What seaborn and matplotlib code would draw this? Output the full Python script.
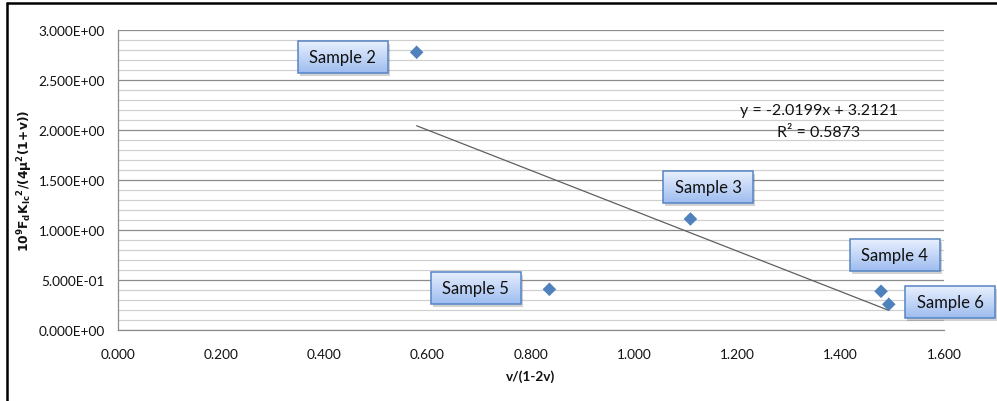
import numpy as np
import pandas as pd
import matplotlib
matplotlib.use("Agg")
import matplotlib.pyplot as plt
import matplotlib.transforms as mtransforms
from matplotlib.patches import Rectangle
from matplotlib.lines import Line2D
from matplotlib.ticker import MultipleLocator, FormatStrFormatter
import seaborn as sns

# Measured samples
samples = ["Sample 2", "Sample 3", "Sample 4", "Sample 6", "Sample 5"]
x_vals = [0.579, 1.109, 1.478, 1.493, 0.836]
y_vals = [2.777, 1.110, 0.387, 0.257, 0.407]

# Linear trendline coefficients
slope = -2.0199
intercept = 3.2121
r_squared = 0.5873

# Callout label anchor positions (data units)
label_x = [0.4355, 1.143, 1.5045, 1.6115, 0.693]
label_y = [2.73, 1.43, 0.75, 0.28, 0.425]

x_ticks = [0.0, 0.2, 0.4, 0.6, 0.8, 1.0, 1.2, 1.4, 1.6]
y_ticks = [0.0, 0.5, 1.0, 1.5, 2.0, 2.5, 3.0]

sns.set_theme(style="white")
plt.rcParams["font.family"] = ["Lato", "DejaVu Sans"]
plt.rcParams["mathtext.fontset"] = "dejavusans"

fig = plt.figure(figsize=(9.97, 4.02), dpi=100)
ax = fig.add_axes([0.1179, 0.1766, 0.8290, 0.7463])

df = pd.DataFrame({"x": x_vals, "y": y_vals, "sample": samples})

# Trendline over the observed x range
x_line = np.array([min(x_vals), max(x_vals)])
trend = pd.DataFrame({"x": x_line, "y": slope * x_line + intercept})
sns.lineplot(data=trend, x="x", y="y", ax=ax, color="#5f5f5f", linewidth=0.9, zorder=3)

sns.scatterplot(data=df, x="x", y="y", ax=ax, marker="D", s=48,
                color="#4f81bd", edgecolor="none", zorder=4)

ax.set_xlim(0, 1.6)
ax.set_ylim(0, 3.0)
ax.set_xticks(x_ticks)
ax.set_yticks(y_ticks)
ax.xaxis.set_major_formatter(FormatStrFormatter("%.3f"))
ax.yaxis.set_major_formatter(FormatStrFormatter("%.3E"))
ax.yaxis.set_minor_locator(MultipleLocator(0.1))

ax.grid(axis="y", which="major", color="#8c8c8c", linewidth=0.9)
ax.grid(axis="y", which="minor", color="#d0d0d0", linewidth=0.9)
ax.grid(axis="x", visible=False)
ax.set_axisbelow(True)

for side in ["top", "right"]:
    ax.spines[side].set_visible(False)
for side in ["left", "bottom"]:
    ax.spines[side].set_color("#8c8c8c")
    ax.spines[side].set_linewidth(0.9)

ax.tick_params(axis="both", which="major", direction="out", length=5, width=0.9,
               color="#8c8c8c", labelsize=9.8, labelcolor="#111111", pad=4)
ax.tick_params(axis="both", which="minor", length=0)
ax.tick_params(axis="x", pad=8)

ax.set_xlabel("v/(1-2v)", fontsize=9.8, fontweight="bold", labelpad=7, color="#111111")
ax.set_ylabel(r"$\mathbf{10^{9}F_{d}K_{Ic}{}^{2}/(4\mu^{2}(1\!+\!v))}$", fontsize=8.8,
              labelpad=3, color="#111111")

# Trendline equation
ax.text(1.358, 2.20, f"y = {slope:.4f}x + {intercept:.4f}", ha="center", va="center",
        fontsize=11.5, color="#111111")
ax.text(1.358, 1.98, f"R\u00b2 = {r_squared:.4f}", ha="center", va="center",
        fontsize=11.5, color="#111111")

# Callout boxes with a vertical blue gradient and soft shadow
grad = np.linspace(0, 1, 64).reshape(-1, 1)
top_c = np.array([0.91, 0.94, 0.995])
bot_c = np.array([0.62, 0.74, 0.94])
grad_rgb = top_c[None, None, :] * (1 - grad[..., None]) + bot_c[None, None, :] * grad[..., None]
w, h = 0.90, 0.32
for name, lx, ly in zip(samples, label_x, label_y):
    anchor = mtransforms.ScaledTranslation(lx, ly, ax.transData)
    tr = fig.dpi_scale_trans + anchor
    shadow = Rectangle((-w / 2 + 0.025, -h / 2 - 0.03), w, h, transform=tr,
                       facecolor="#000000", alpha=0.18, edgecolor="none",
                       zorder=5, clip_on=False)
    ax.add_patch(shadow)
    ax.imshow(grad_rgb, extent=(-w / 2, w / 2, -h / 2, h / 2), transform=tr,
              aspect="auto", zorder=6, clip_on=False, interpolation="bilinear")
    box = Rectangle((-w / 2, -h / 2), w, h, transform=tr, facecolor="none",
                    edgecolor="#5585c4", linewidth=1.1, zorder=7, clip_on=False)
    ax.add_patch(box)
    ax.text(0, 0, name, transform=tr, ha="center", va="center", fontsize=12,
            color="#111111", zorder=8, clip_on=False)

ax.set_xlim(0, 1.6)
ax.set_ylim(0, 3.0)

# Outer chart frame (top and left edges)
fig.add_artist(Line2D([0.007, 1.0], [0.990, 0.990], transform=fig.transFigure,
                      color="black", linewidth=1.8))
fig.add_artist(Line2D([0.007, 0.007], [0.0, 0.990], transform=fig.transFigure,
                      color="black", linewidth=1.8))

fig.savefig("out.png", dpi=100)
